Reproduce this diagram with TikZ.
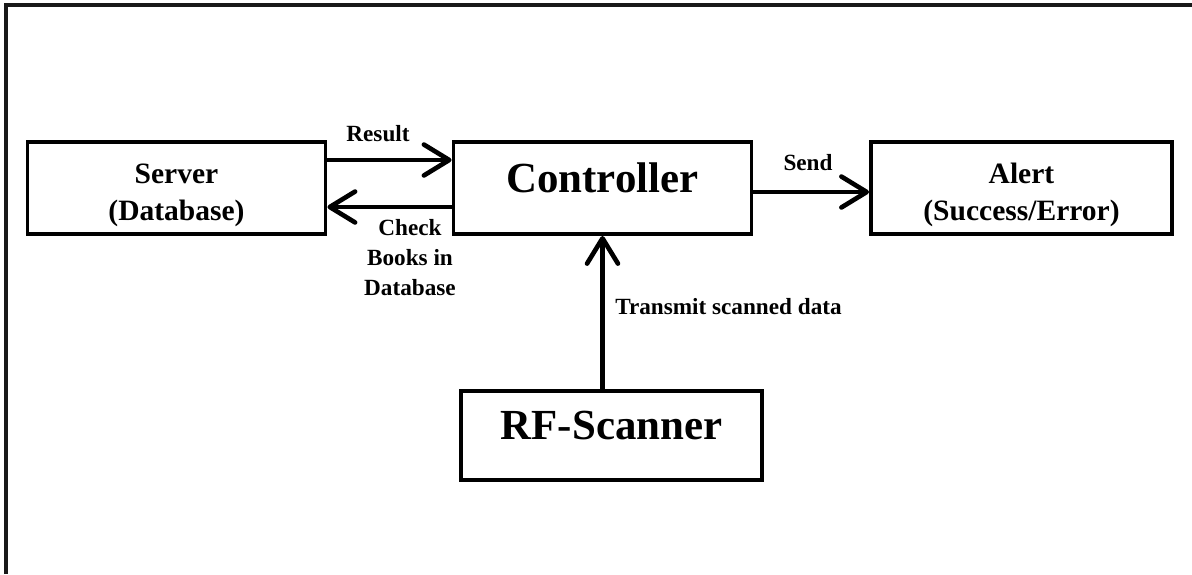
\documentclass[tikz,border=0pt]{standalone}
\usepackage{fontspec}
\setmainfont{Liberation Serif}
\usetikzlibrary{arrows.meta,calc}
\tikzset{>={Straight Barb[length=18pt,width=22pt,round]}}
\tikzset{
  blk/.style={draw,line width=2.8pt,minimum width=298*0.025cm,minimum height=92*0.025cm,inner sep=0pt,align=center,font=\bfseries\fontsize{21}{26.5}\selectfont},
  blktxt/.style={align=center,inner sep=0pt,font=\bfseries\fontsize{21}{26.5}\selectfont},
  bigblk/.style={blk,font=\bfseries\fontsize{30.5}{34}\selectfont},
  lbl/.style={align=center,inner sep=0pt,font=\bfseries\fontsize{16.5}{21.3}\selectfont},
  arr/.style={->,line width=3.3pt}
}

\begin{document}
\begin{tikzpicture}[x=0.025cm,y=-0.025cm]
  \useasboundingbox (0,0) rectangle (1192,574);

  % Frame
  \draw[line width=2.2pt,black!90] (6,574) -- (6,5) -- (1192,5);

  % Blocks
  \node[blk] (srv) at (176.5,188) {};
  \node[blktxt] (srvtxt) at ($(srv)+(0,7)$) {Server\\(Database)};
  \node[bigblk,text depth=15pt] (ctrl) at (602.5,188) {Controller};
  \node[blk,minimum width=301*0.025cm] (alert) at (1021.5,188) {};
  \node[blktxt] (alerttxt) at ($(alert)+(0,7)$) {Alert\\(Success/Error)};
  \node[bigblk,minimum width=301*0.025cm,minimum height=89*0.025cm,text depth=14pt] (rf) at (611.5,435.5) {RF-Scanner};

  % Connectors
  \draw[arr] ($(srv.east)+(0,-28)$) -- ($(ctrl.west)+(0,-28)$);
  \draw[arr] ($(ctrl.west)+(0,19)$) -- ($(srv.east)+(0,19)$);
  \draw[arr] ($(ctrl.east)+(0,4)$) -- ($(alert.west)+(0,4)$);
  \draw[arr] (ctrl.south |- rf.north) -- (ctrl.south);

  % Labels
  \node[lbl] (res) at (378,134) {Result};
  \node[lbl] (chk) at (410,258) {Check\\Books in\\Database};
  \node[lbl] (snd) at (808,163) {Send};
  \node[lbl,anchor=west] (tx) at (615,307) {Transmit scanned data};

\end{tikzpicture}
\end{document}
